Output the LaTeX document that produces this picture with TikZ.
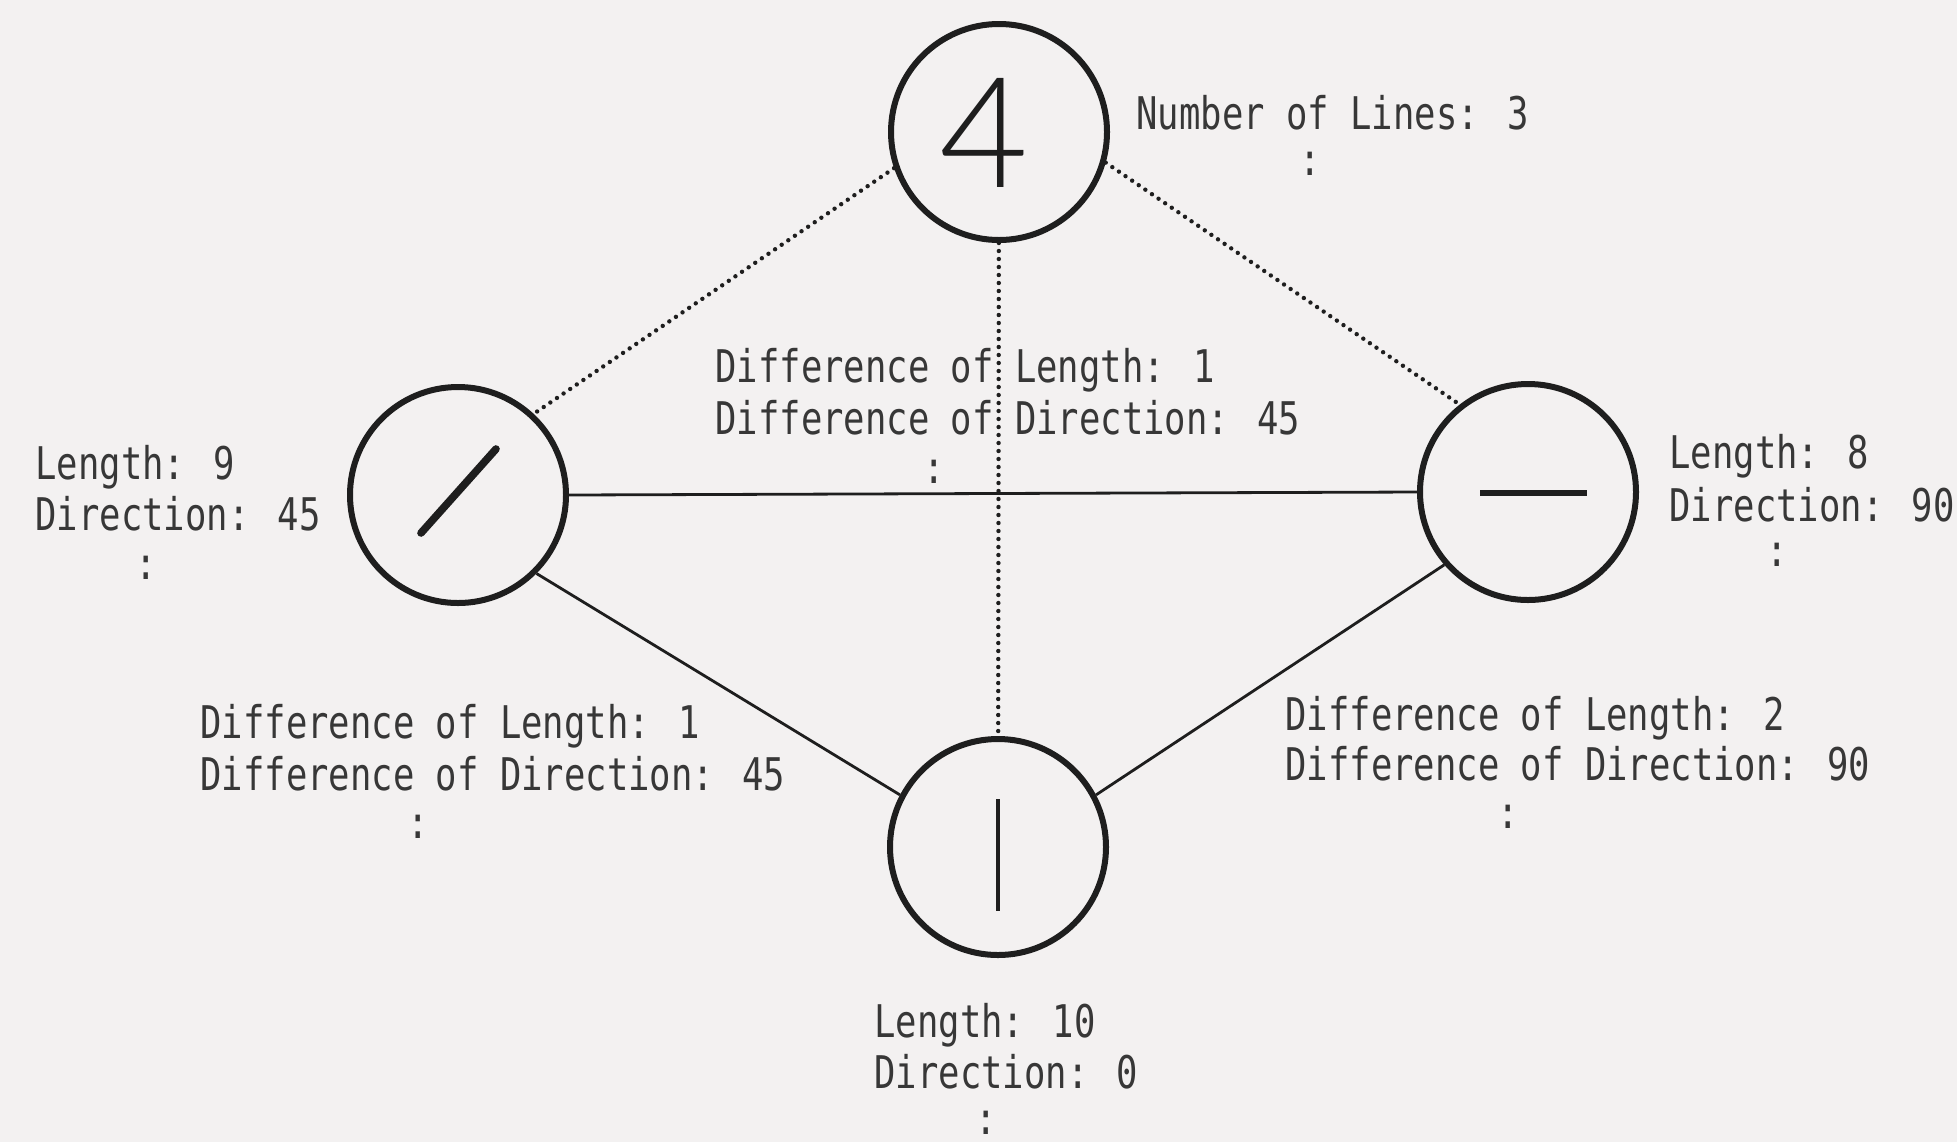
\documentclass[tikz,border=0pt]{standalone}
\usepackage{fontspec}
\newfontfamily\lblfont[FakeStretch=0.79]{DejaVu Sans Mono}
\newfontfamily\thinfont{Lato Light}
\definecolor{paper}{RGB}{243,241,241}
\definecolor{ink}{RGB}{30,30,30}
\definecolor{txt}{RGB}{55,55,55}
\tikzset{
  ring/.style={circle, draw=ink, line width=3pt, minimum size=108pt, inner sep=0pt},
  lbl/.style={font=\lblfont\fontsize{22.5}{26}\selectfont, anchor=base west, inner sep=0pt, text=txt},
  vdots/.style={font=\lblfont\fontsize{22.5}{26}\selectfont, anchor=center, inner sep=0pt, text=txt},
  link/.style={draw=ink, line width=1.4pt},
  dotlink/.style={draw=ink, line width=2.2pt, line cap=round, dash pattern=on 0pt off 4pt},
  glyphstroke/.style={draw=ink, line cap=round},
}
\begin{document}
\begin{tikzpicture}[x=0.5pt,y=-0.5pt]
\fill[paper] (0,0) rectangle (1957,1142);
\useasboundingbox (0,0) rectangle (1957,1142);

% nodes
\node[ring] (T) at (999,132) {};
\node[font=\thinfont\fontsize{77}{77}\selectfont, text=ink, inner sep=0pt] (four) at (984,133) {4};
\node[ring] (L) at (458,495) {};
\node[ring] (R) at (1528,492) {};
\node[ring] (B) at (998,847) {};

% strokes inside the circles
\draw[glyphstroke, line width=3.8pt] ([shift={(-37,38)}]L.center) -- ([shift={(38,-46)}]L.center);
\draw[glyphstroke, line width=3.4pt, line cap=butt] ([shift={(-48,1)}]R.center) -- ([shift={(59,1)}]R.center);
\draw[glyphstroke, line width=2.4pt, line cap=butt] ([shift={(0,-48)}]B.center) -- ([shift={(0,64)}]B.center);

% connectors
\draw[dotlink] (T.199) -- (L.47);
\draw[dotlink] (T.344) -- (R.128);
\draw[dotlink] (T) -- (B);
\draw[link] (L.east) -- (R.west);
\draw[link] (L.315) -- (B.152);
\draw[link] (R.221) -- (B.28);

% labels
\node[lbl] (tl1) at (1136,129) {Number of Lines: 3};
\node[vdots] (tv) at (1310,164) {:};

\node[lbl] (ll1) at (35,479) {Length: 9};
\node[lbl] (ll2) at (35,530) {Direction: 45};
\node[vdots] (lv) at (146,568) {:};

\node[lbl] (rl1) at (1669,468) {Length: 8};
\node[lbl] (rl2) at (1669,521) {Direction: 90};
\node[vdots] (rv) at (1777,555) {:};

\node[lbl] (ml1) at (715,382) {Difference of Length: 1};
\node[lbl] (ml2) at (715,434) {Difference of Direction: 45};
\node[vdots] (mv) at (934,472) {:};

\node[lbl] (al1) at (200,738) {Difference of Length: 1};
\node[lbl] (al2) at (200,790) {Difference of Direction: 45};
\node[vdots] (av) at (418,827) {:};

\node[lbl] (bl1) at (1285,730) {Difference of Length: 2};
\node[lbl] (bl2) at (1285,780) {Difference of Direction: 90};
\node[vdots] (bv) at (1508,817) {:};

\node[lbl] (dl1) at (874,1037) {Length: 10};
\node[lbl] (dl2) at (874,1088) {Direction: 0};
\node[vdots] (dv) at (986,1123) {:};
\end{tikzpicture}
\end{document}
